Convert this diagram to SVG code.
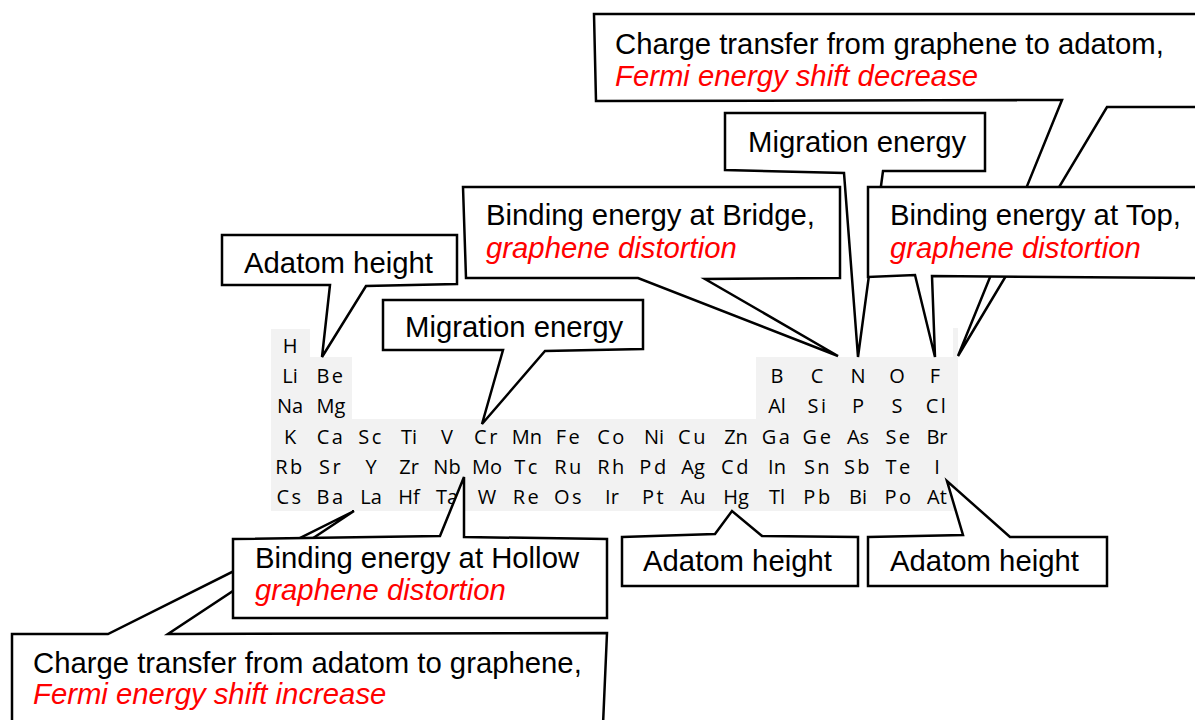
<svg xmlns="http://www.w3.org/2000/svg" width="1195" height="720" viewBox="0 0 1195 720">
<style>
.box{fill:#fff;stroke:#000;stroke-width:2.5;stroke-linejoin:miter;stroke-miterlimit:4}
.t{font-family:"Liberation Sans",Arial,sans-serif;font-size:29.3px;fill:#000}
.r{fill:#ff0000;font-style:italic}
.el{font-family:"Open Sans","Noto Sans",sans-serif;font-size:20px;text-anchor:middle;fill:#000}
.sp{letter-spacing:2.5px}
.bg{fill:#f2f2f2}
</style>
<rect width="1195" height="720" fill="#fff"/>
<g id="table">
<path class="bg" d="M271,329 H310 V357 H352 V419 H756 V357 H958 V511 H271 Z"/>
<rect class="bg" x="953" y="328" width="5" height="30"/>
<g class="el">
<text x="290" y="353">H</text>
<text x="290" y="383">Li</text><text x="331" y="383" class="sp">Be</text>
<text x="777" y="383">B</text><text x="817" y="383">C</text><text x="858" y="383">N</text><text x="897" y="383">O</text><text x="935" y="383">F</text>
<text x="290" y="413">Na</text><text x="331" y="413">Mg</text>
<text x="777" y="413">Al</text><text x="818" y="413" class="sp">Si</text><text x="858" y="413">P</text><text x="897" y="413">S</text><text x="937" y="413" class="sp">Cl</text>
<text x="290" y="444">K</text><text x="331" y="444" class="sp">Ca</text><text x="371" y="444" class="sp">Sc</text><text x="409" y="444">Ti</text><text x="447" y="444">V</text><text x="487" y="444" class="sp">Cr</text><text x="527" y="444">Mn</text><text x="569" y="444" class="sp">Fe</text><text x="612" y="444" class="sp">Co</text><text x="654" y="444">Ni</text><text x="693" y="444" class="sp">Cu</text><text x="736" y="444">Zn</text><text x="777" y="444" class="sp">Ga</text><text x="818" y="444" class="sp">Ge</text><text x="858" y="444">As</text><text x="899" y="444" class="sp">Se</text><text x="937" y="444">Br</text>
<text x="290" y="474" class="sp">Rb</text><text x="331" y="474" class="sp">Sr</text><text x="371" y="474">Y</text><text x="409" y="474">Zr</text><text x="447" y="474">Nb</text><text x="487" y="474">Mo</text><text x="527" y="474" class="sp">Tc</text><text x="569" y="474" class="sp">Ru</text><text x="612" y="474" class="sp">Rh</text><text x="654" y="474" class="sp">Pd</text><text x="693" y="474">Ag</text><text x="736" y="474" class="sp">Cd</text><text x="777" y="474">In</text><text x="818" y="474" class="sp">Sn</text><text x="858" y="474" class="sp">Sb</text><text x="899" y="474" class="sp">Te</text><text x="937" y="474">I</text>
<text x="290" y="504" class="sp">Cs</text><text x="331" y="504" class="sp">Ba</text><text x="371" y="504">La</text><text x="409" y="504">Hf</text><text x="447" y="504">Ta</text><text x="487" y="504">W</text><text x="527" y="504" class="sp">Re</text><text x="569" y="504" class="sp">Os</text><text x="612" y="504">Ir</text><text x="654" y="504" class="sp">Pt</text><text x="693" y="504">Au</text><text x="736" y="504">Hg</text><text x="777" y="504">Tl</text><text x="818" y="504" class="sp">Pb</text><text x="858" y="504">Bi</text><text x="899" y="504" class="sp">Po</text><text x="937" y="504">At</text>
</g>
</g>
<g id="charge-top">
<polygon class="box" points="594,14 1200,14 1200,107 1107,107 958,356 1062,100 596,101"/>
<text class="t" x="615" y="54">Charge transfer from graphene to adatom,</text>
<text class="t r" x="615" y="86">Fermi energy shift decrease</text>
</g>
<g id="migration-top">
<polygon class="box" points="725,113 985,113 985,171 883,171 858,357 844,173 725,170"/>
<text class="t" x="748" y="152">Migration energy</text>
</g>
<g id="binding-bridge">
<polygon class="box" points="463,187 840,187 840,278 705,279 838,356 638,278 466,278"/>
<text class="t" x="486" y="225">Binding energy at Bridge,</text>
<text class="t r" x="486" y="258">graphene distortion</text>
</g>
<g id="binding-top">
<polygon class="box" points="868,187 1200,187 1200,278 932,276 935,357 915,275 868,277"/>
<text class="t" x="890" y="225">Binding energy at Top,</text>
<text class="t r" x="890" y="258">graphene distortion</text>
</g>
<g id="adatom-be">
<polygon class="box" points="222,235 457,235 457,284 366,286 322,357 330,285 222,285"/>
<text class="t" x="244" y="273">Adatom height</text>
</g>
<g id="migration-cr">
<polygon class="box" points="383,300 643,300 643,349 545,351 482,424 503,350 383,350"/>
<text class="t" x="405" y="337">Migration energy</text>
</g>
<g id="charge-bottom">
<polygon class="box" points="12,634 108,634 354,511 168,634 607,633 603,725 12,725"/>
<text class="t" x="33" y="673">Charge transfer from adatom to graphene,</text>
<text class="t r" x="33" y="704">Fermi energy shift increase</text>
</g>
<g id="binding-hollow">
<polygon class="box" points="233,539 440,536 464,477 464,537 607,539 607,618 233,618"/>
<text class="t" x="255" y="568">Binding energy at Hollow</text>
<text class="t r" x="255" y="600">graphene distortion</text>
</g>
<g id="adatom-hg">
<polygon class="box" points="622,537 715,534 732,511 762,536 858,537 858,586 622,586"/>
<text class="t" x="643" y="571">Adatom height</text>
</g>
<g id="adatom-at">
<polygon class="box" points="868,537 963,535 947,481 1010,537 1107,537 1107,586 868,586"/>
<text class="t" x="890" y="571">Adatom height</text>
</g>
</svg>
